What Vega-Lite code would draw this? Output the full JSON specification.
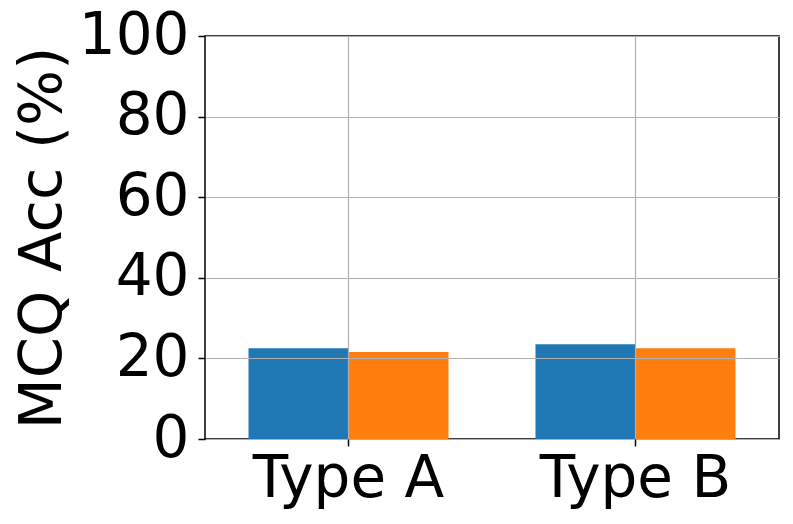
{
  "$schema": "https://vega.github.io/schema/vega-lite/v6.json",
  "autosize": "none",
  "padding": {"left": 205, "top": 36, "right": 14, "bottom": 85},
  "width": 574,
  "height": 403,
  "background": "white",
  "config": {
    "view": {"stroke": "black", "strokeWidth": 1.5},
    "font": "DejaVu Sans"
  },
  "data": {
    "values": [
      {"type": "Type A", "series": "first", "acc": 22.5},
      {"type": "Type A", "series": "second", "acc": 21.6},
      {"type": "Type B", "series": "first", "acc": 23.5},
      {"type": "Type B", "series": "second", "acc": 22.5}
    ]
  },
  "mark": {"type": "bar"},
  "encoding": {
    "x": {
      "field": "type",
      "type": "nominal",
      "scale": {"paddingInner": 0.303, "paddingOuter": 0.1516},
      "axis": {
        "title": null,
        "labelAngle": 0,
        "labelFontSize": 58,
        "labelLimit": 0,
        "labelColor": "black",
        "labelPadding": 4,
        "tickSize": 7,
        "tickColor": "black",
        "tickWidth": 1.5,
        "domain": false,
        "grid": true,
        "gridColor": "#b0b0b0",
        "gridWidth": 1.2,
        "bandPosition": 0.5,
        "zindex": 1
      }
    },
    "xOffset": {"field": "series", "type": "nominal", "scale": {"paddingInner": 0, "paddingOuter": 0}},
    "y": {
      "field": "acc",
      "type": "quantitative",
      "scale": {"domain": [0, 100], "nice": false},
      "axis": {
        "title": "MCQ Acc (%)",
        "titleFontSize": 59,
        "titleFontWeight": "normal",
        "titleColor": "black",
        "titleX": -145,
        "titleY": 201.5,
        "titleAngle": -90,
        "titleAlign": "center",
        "titleBaseline": "alphabetic",
        "titleLimit": 0,
        "values": [0, 20, 40, 60, 80, 100],
        "labelFontSize": 58,
        "labelLimit": 0,
        "labelColor": "black",
        "labelPadding": 9,
        "tickSize": 7,
        "tickColor": "black",
        "tickWidth": 1.5,
        "domain": false,
        "grid": true,
        "gridColor": "#b0b0b0",
        "gridWidth": 1.2,
        "zindex": 1
      }
    },
    "color": {
      "field": "series",
      "type": "nominal",
      "scale": {"range": ["#1f77b4", "#ff7f0e"]},
      "legend": null
    }
  }
}
